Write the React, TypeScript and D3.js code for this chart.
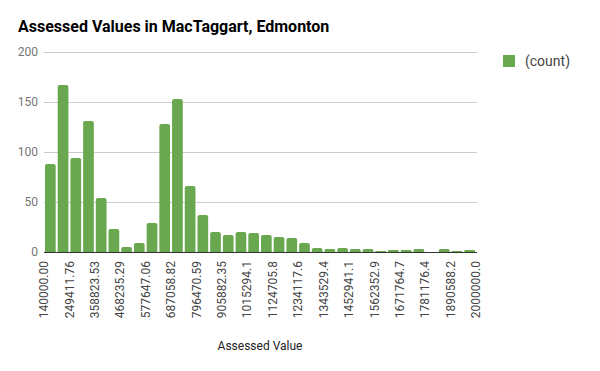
import * as d3 from "d3";

// histogram of assessed values, 34 equal-width bins
const binMin = 140000;
const binMax = 2000000;
const counts = [
    88, 167, 94, 131, 54, 23, 5, 9, 29, 128, 153, 66, 37, 20, 17, 20, 19, 17,
    15, 14, 9, 4, 3, 4, 3, 3, 1, 2, 2, 3, 0, 3, 1, 2,
];
const xTickLabels = [
    "140000.00", "249411.76", "358823.53", "468235.29", "577647.06",
    "687058.82", "796470.59", "905882.35", "1015294.1", "1124705.8",
    "1234117.6", "1343529.4", "1452941.1", "1562352.9", "1671764.7",
    "1781176.4", "1890588.2", "2000000.0",
];
const yTicks = [0, 50, 100, 150, 200];

const width = 600;
const height = 371;
const margin = { top: 52, right: 124, bottom: 119, left: 44 };
const green = "#6aa84f";
const font = "Roboto, 'Noto Sans', sans-serif";

export default function App() {
    const binWidth = (binMax - binMin) / counts.length;
    const tickStep = (binMax - binMin) / (xTickLabels.length - 1);

    const xScale = d3
        .scaleLinear()
        .domain([binMin, binMax])
        .range([margin.left, width - margin.right]);
    const yScale = d3
        .scaleLinear()
        .domain([0, 200])
        .range([height - margin.bottom, margin.top]);

    const y0 = yScale(0);

    return (
        <svg
            width={width}
            height={height}
            style={{ position: "absolute", left: 0, top: 0, background: "#fff" }}
            fontFamily={font}
        >
            {/* Title */}
            <text x={18} y={32} fontSize={16} fontWeight="bold" fill="#000">
                Assessed Values in MacTaggart, Edmonton
            </text>

            {/* Grid lines + y labels */}
            {yTicks.map((t) => (
                <g key={t}>
                    {t !== 0 && (
                        <line
                            x1={margin.left}
                            x2={width - margin.right + 1}
                            y1={yScale(t) + 0.5}
                            y2={yScale(t) + 0.5}
                            stroke="#cccccc"
                        />
                    )}
                    <text
                        x={38}
                        y={yScale(t)}
                        dy="0.35em"
                        textAnchor="end"
                        fontSize={12}
                        fill="#757575"
                    >
                        {t}
                    </text>
                </g>
            ))}

            {/* Bars */}
            {counts.map((c, i) => {
                const lo = binMin + i * binWidth;
                const hi = lo + binWidth;
                const x = xScale(lo) + 1;
                const w = xScale(hi) - xScale(lo) - 2;
                const top = yScale(c);
                const h = y0 - top;
                if (h <= 0) return null;
                const r = Math.min(2, h / 2);
                const d = `M${x},${y0} V${top + r} Q${x},${top} ${x + r},${top} H${
                    x + w - r
                } Q${x + w},${top} ${x + w},${top + r} V${y0} Z`;
                return <path key={i} d={d} fill={green} />;
            })}

            {/* Baseline */}
            <line
                x1={margin.left}
                x2={width - margin.right + 1}
                y1={y0 + 0.5}
                y2={y0 + 0.5}
                stroke="#333333"
            />

            {/* X labels */}
            {xTickLabels.map((label, i) => {
                const x = xScale(binMin + i * tickStep);
                return (
                    <text
                        key={label}
                        transform={`translate(${x},${y0 + 9}) rotate(-90)`}
                        textAnchor="end"
                        dy="0.35em"
                        fontSize={12}
                        fill="#444444"
                    >
                        {label}
                    </text>
                );
            })}

            {/* X axis title */}
            <text
                x={(xScale(binMin) + xScale(binMax)) / 2}
                y={350}
                textAnchor="middle"
                fontSize={12}
                fill="#222222"
            >
                Assessed Value
            </text>

            {/* Legend */}
            <rect x={503} y={55} width={12} height={12} fill={green} />
            <text x={525} y={66} fontSize={14} fill="#444444">
                (count)
            </text>
        </svg>
    );
}
